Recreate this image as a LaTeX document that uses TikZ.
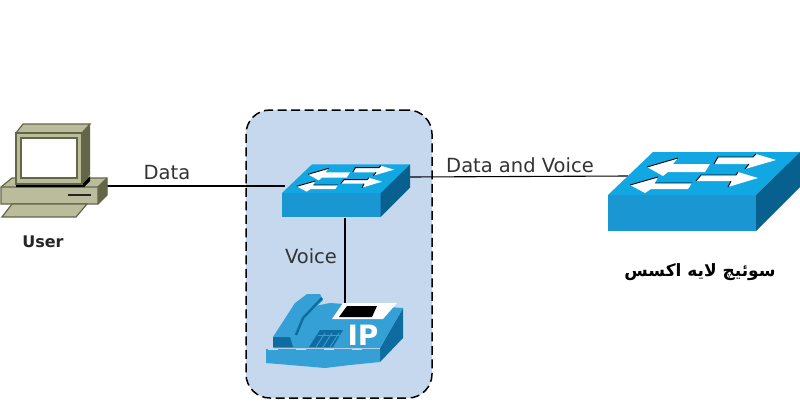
\documentclass[tikz,border=0pt]{standalone}
\usepackage{fontspec}
\setmainfont{DejaVu Sans}
\newfontfamily\arabicfont[Script=Arabic]{DejaVu Sans}
\TeXXeTstate=1
\definecolor{GroupBlue}{RGB}{197,216,238}
\definecolor{SwitchTop}{RGB}{16,167,226}
\definecolor{SwitchFront}{RGB}{26,150,210}
\definecolor{SwitchSide}{RGB}{8,96,142}
\definecolor{PhoneLight}{RGB}{52,160,214}
\definecolor{PhoneDark}{RGB}{14,108,160}
\definecolor{PcBeige}{RGB}{186,188,156}
\definecolor{PcDark}{RGB}{100,102,72}
\begin{document}
\begin{tikzpicture}[x=1pt,y=-1pt,port/.style={inner sep=0pt,minimum size=0pt},lbl/.style={font=\fontsize{19.5}{22}\selectfont,text=black!80,inner sep=0pt},link/.style={draw=black,line width=1.1pt},swarrow/.style={fill=white,draw=none},swedge/.style={draw=black,line width=0.9pt},
switchicon/.pic={
   \fill[SwitchFront] (0,0) rectangle (148,36);
   \fill[SwitchTop] (0,0) -- (148,0) -- (192,-43) -- (45,-43) -- cycle;
   \fill[SwitchSide] (148,0) -- (192,-43) -- (192,-8) -- (148,36) -- cycle;
   \fill[swarrow] (39,-28) -- (70,-37) -- (65,-31) -- (102,-31) -- (97,-23) -- (60,-23) -- (55,-19) -- cycle;
   \fill[swarrow] (22,-10) -- (50,-18) -- (47,-12) -- (84,-12) -- (80,-6) -- (43,-6) -- (37,-2) -- cycle;
   \fill[swarrow] (168,-35) -- (148,-41) -- (145,-38) -- (110,-38) -- (106,-31) -- (141,-31) -- (137,-26) -- cycle;
   \fill[swarrow] (150,-17) -- (130,-23) -- (128,-20) -- (93,-20) -- (88,-14) -- (123,-14) -- (120,-8) -- cycle;
   \draw[swedge] (39,-28) -- (70,-37);
   \draw[swedge] (22,-10) -- (50,-18) (47,-12) -- (84,-12);
   \draw[swedge] (148,-41) -- (145,-38) -- (110,-38) -- (106,-31);
   \draw[swedge] (130,-23) -- (128,-20) -- (93,-20) -- (88,-14);
   \draw[swedge] (141,-31) -- (137,-26) (123,-14) -- (120,-8);
}]
\useasboundingbox (0,0) rectangle (800,400);
\fill[white] (0,0) rectangle (800,400);
\node[draw=black,fill=GroupBlue,dash pattern=on 9pt off 4.5pt,line width=1.5pt,rounded corners=24pt,minimum width=186pt,minimum height=288pt,inner sep=0pt](voicegroup) at (339,254) {};
\node[port](pcport) at (107,186) {};
\node[port](accessleft) at (285,186) {};
\node[port](accessright) at (409,177) {};
\node[port](accessdown) at (345,218) {};
\node[port](phonetop) at (345,303) {};
\node[port](uplinkport) at (628,176) {};
\draw[link] (pcport) -- (accessleft);
\draw[link] (accessdown) -- (phonetop);
\draw[link] (accessright) -- (uplinkport);
\pic[scale=0.667] at (282,193) {switchicon};
\pic at (608,195) {switchicon};
% user computer
\fill[PcBeige,draw=PcDark,line width=1.2pt] (12,178) -- (107,178) -- (107,195) -- (98,204) -- (1,204) -- (1,187) -- cycle;
\draw[PcDark,line width=1.2pt] (1,187) -- (98,187) -- (107,178) (98,187) -- (98,204);
\fill[PcDark] (98,187) -- (107,178) -- (107,195) -- (98,204) -- cycle;
\fill[black] (16,184) -- (82,184) -- (90,176) -- (90,181) -- (84,187) -- (16,187) -- cycle;
\fill[PcBeige,draw=PcDark,line width=1.2pt] (16,133) -- (23,124) -- (90,124) -- (82,133) -- cycle;
\fill[PcDark] (82,133) -- (90,124) -- (90,175) -- (82,184) -- cycle;
\fill[PcBeige,draw=PcDark,line width=1.4pt] (16,133) rectangle (82,184);
\fill[white,draw=PcDark,line width=1.4pt] (21,138) rectangle (77,178);
\draw[black!85,line width=1.2pt] (68,195) -- (91,195);
\fill[PcBeige,draw=PcDark,line width=1.2pt] (12,204) -- (87,204) -- (76,217) -- (2,217) -- cycle;
\node[font=\fontsize{16}{18}\selectfont\bfseries,text=black!85,inner sep=0pt](userlabel) at (43,242) {User};
% ip phone
\fill[PhoneDark] (380,348) -- (403,308) -- (403,338) -- (380,362) -- cycle;
\fill[PhoneLight] (273,348) -- (295,310) -- (330,303) -- (403,308) -- (380,348) -- cycle;
\fill[PhoneLight] (266,349) -- (380,349) -- (380,362) -- (350,365) -- (325,368) -- (290,365) -- (266,363) -- cycle;
\draw[white!70!PhoneLight,line width=0.8pt,dash pattern=on 10pt off 18pt] (268,349) -- (380,349);
\fill[PhoneDark] (273,337) -- (290,337) -- (293,347) -- (273,347) -- cycle;
\fill[PhoneLight] (273,337) -- (295,303) -- (307,294) -- (320,294) -- (323,300) -- (310,313) -- (293,337) -- cycle;
\draw[PhoneDark,line width=2.4pt] (296,335) -- (303,318) -- (322,298);
\fill[white] (332,319) -- (343,303) -- (397,303) -- (383,319) -- cycle;
\fill[black] (339,317) -- (347,306) -- (377,306) -- (372,317) -- cycle;
\fill[PhoneDark] (309,347) -- (320,330) -- (343,330) -- (333,347) -- cycle;
\foreach \k in {0,1,2}{
   \draw[PhoneLight,line width=0.9pt] (316+\k*7,347) -- (325+\k*7,333);
}
\draw[PhoneLight,line width=0.9pt] (318,335) -- (342,335);
\node[font=\fontsize{28}{29}\selectfont\bfseries,text=white,inner sep=0pt](iplabel) at (363,335) {IP};
% labels
\node[lbl](datalabel) at (167,173) {Data};
\node[lbl](voicelabel) at (311,256) {Voice};
\node[lbl](uplinklabel) at (520,165) {Data and Voice};
\node[inner sep=0pt,text=black,font=\fontsize{17}{20}\selectfont\bfseries](accesslabel) at (700,272) {\arabicfont\beginR سوئیچ لایه اکسس\endR};
\end{tikzpicture}
\end{document}
